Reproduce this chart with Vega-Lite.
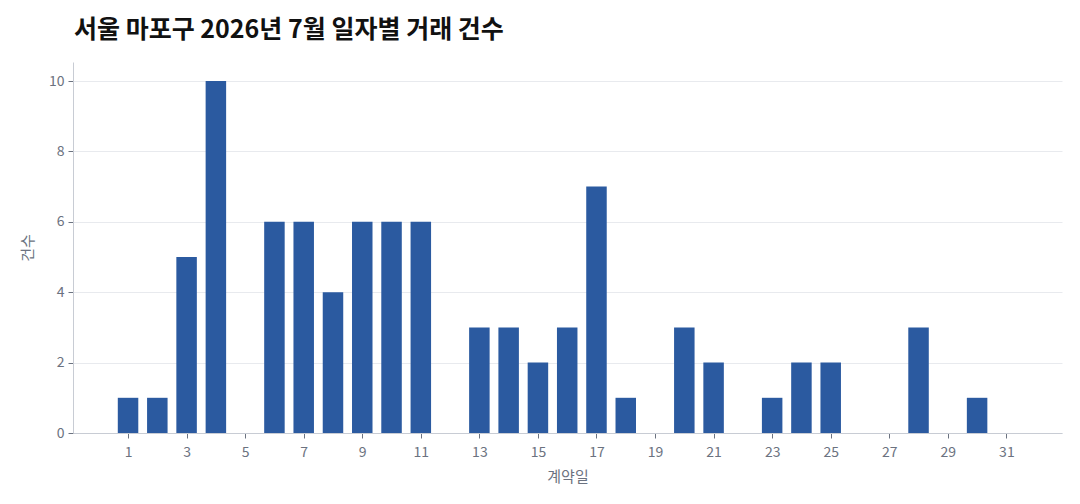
{
  "$schema": "https://vega.github.io/schema/vega-lite/v6.json",
  "width": 989,
  "height": 371,
  "autosize": {"type": "none"},
  "padding": {"left": 73, "top": 62, "right": 18, "bottom": 71},
  "background": "white",
  "title": {
    "text": "서울 마포구 2026년 7월 일자별 거래 건수",
    "anchor": "start",
    "frame": "group",
    "font": "Noto Sans CJK KR",
    "fontSize": 25,
    "fontWeight": "bold",
    "color": "#111111",
    "offset": 19,
    "dx": 1
  },
  "config": {
    "view": {"stroke": null},
    "font": "Noto Sans CJK KR",
    "axis": {
      "labelFont": "Noto Sans CJK KR",
      "titleFont": "Noto Sans CJK KR",
      "labelFontSize": 14,
      "titleFontSize": 15,
      "labelColor": "#6b7280",
      "titleColor": "#6b7280",
      "titleFontWeight": "normal",
      "domainColor": "#c8ccd4",
      "tickColor": "#6b7280",
      "gridColor": "#e8eaee",
      "tickSize": 5
    }
  },
  "data": {
    "values": [
      {"day": 1, "count": 1}, {"day": 2, "count": 1}, {"day": 3, "count": 5},
      {"day": 4, "count": 10}, {"day": 5, "count": 0}, {"day": 6, "count": 6},
      {"day": 7, "count": 6}, {"day": 8, "count": 4}, {"day": 9, "count": 6},
      {"day": 10, "count": 6}, {"day": 11, "count": 6}, {"day": 12, "count": 0},
      {"day": 13, "count": 3}, {"day": 14, "count": 3}, {"day": 15, "count": 2},
      {"day": 16, "count": 3}, {"day": 17, "count": 7}, {"day": 18, "count": 1},
      {"day": 19, "count": 0}, {"day": 20, "count": 3}, {"day": 21, "count": 2},
      {"day": 22, "count": 0}, {"day": 23, "count": 1}, {"day": 24, "count": 2},
      {"day": 25, "count": 2}, {"day": 26, "count": 0}, {"day": 27, "count": 0},
      {"day": 28, "count": 3}, {"day": 29, "count": 0}, {"day": 30, "count": 1},
      {"day": 31, "count": 0}
    ]
  },
  "mark": {"type": "bar", "width": 20.5, "color": "#2b5aa0"},
  "encoding": {
    "x": {
      "field": "day",
      "type": "quantitative",
      "title": "계약일",
      "scale": {"domain": [-0.88, 32.9], "nice": false, "zero": false, "padding": 0},
      "axis": {
        "values": [1, 3, 5, 7, 9, 11, 13, 15, 17, 19, 21, 23, 25, 27, 29, 31],
        "grid": false,
        "labelPadding": 7,
        "titlePadding": 10
      }
    },
    "y": {
      "field": "count",
      "type": "quantitative",
      "title": "건수",
      "scale": {"domain": [0, 10.54], "nice": false, "padding": 0},
      "axis": {
        "values": [0, 2, 4, 6, 8, 10],
        "labelPadding": 4,
        "titlePadding": 13
      }
    }
  }
}
